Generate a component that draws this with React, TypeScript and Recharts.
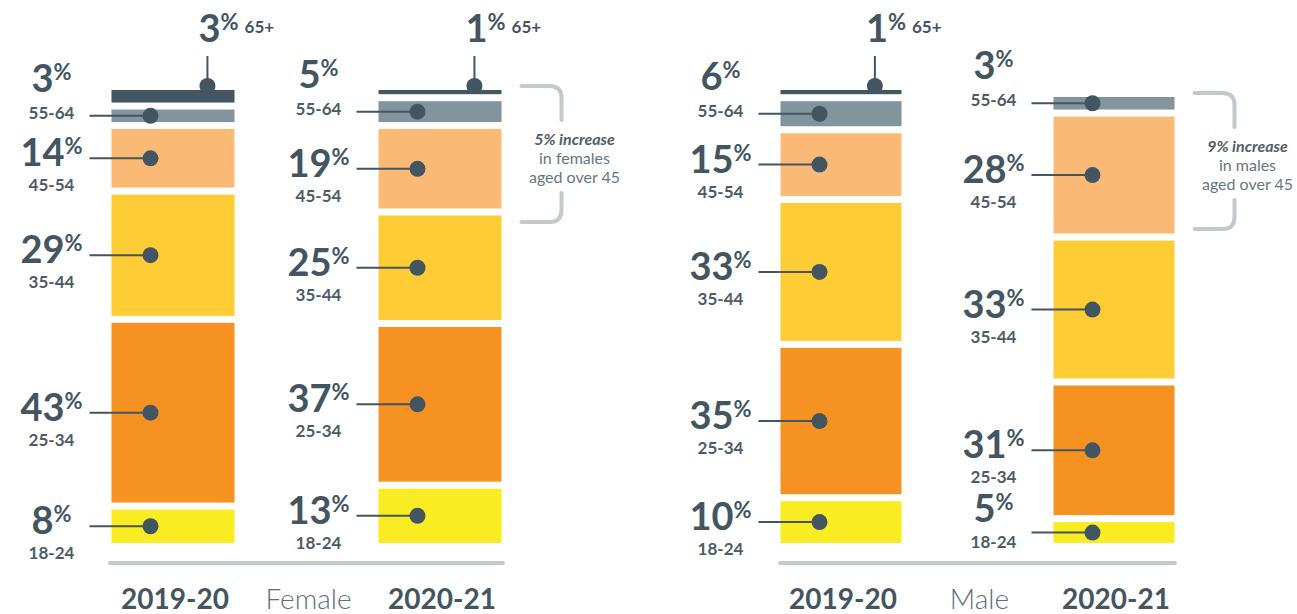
import React from 'react';
import { BarChart, Bar, XAxis, YAxis, Label } from 'recharts';

const years = ['2019-20', '2020-21'];
const ageGroups = ['18-24', '25-34', '35-44', '45-54', '55-64', '65+'];
const female2019 = [8, 43, 29, 14, 3, 3];
const female2020 = [13, 37, 25, 19, 5, 1];
const male2019 = [10, 35, 33, 15, 6, 1];
const male2020 = [5, 31, 33, 28, 3, 0];
const femaleNote = ['5% increase', 'in females', 'aged over 45'];
const maleNote = ['9% increase', 'in males', 'aged over 45'];
const ageColors = ['#f9ec22', '#f69222', '#fecc34', '#fbb976', '#82959c', '#445661'];

const keyOf = (i: number) => `age${i}`;
const buildRows = (series: number[][]) =>
  years.map((year, r) => {
    const row: Record<string, any> = { year };
    ageGroups.forEach((_, i) => {
      row[keyOf(i)] = series[r][i];
    });
    return row;
  });

const femaleRows = buildRows([female2019, female2020]);
const maleRows = buildRows([male2019, male2020]);

const GAP = 7;
const DARK = '#435561';
const FONT = 'Lato, "Source Sans Pro", "Open Sans", sans-serif';

function makeShape(seriesIdx: number, note: string[]) {
  return (props: any) => {
    const { x, y, width, height, payload } = props;
    if (!payload) return <g />;
    const value = payload[keyOf(seriesIdx)];
    if (!value || value <= 0) return <g />;
    let below = 0;
    for (let j = 0; j < seriesIdx; j++) if (payload[keyOf(j)] > 0) below++;
    let topMost = true;
    for (let j = seriesIdx + 1; j < ageGroups.length; j++) if (payload[keyOf(j)] > 0) topMost = false;
    const top = y - below * GAP;
    const h = Math.abs(height);
    const fill = ageColors[seriesIdx];
    const parts: React.ReactNode[] = [];
    parts.push(<rect key="r" x={x} y={top} width={width} height={h} fill={fill} />);

    if (seriesIdx === ageGroups.length - 1) {
      const dotX = x + width * 0.78;
      const dotY = top - 4;
      parts.push(<line key="l" x1={dotX} x2={dotX} y1={dotY} y2={top - 34} stroke={DARK} strokeWidth={2} />);
      parts.push(<circle key="c" cx={dotX} cy={dotY} r={8} fill={DARK} />);
      parts.push(
        <text key="t" x={dotX - 9} y={top - 48} fontFamily={FONT} fill={DARK} fontWeight={700} fontSize={38}>
          {value}
          <tspan fontSize={22} dy={-12}>%</tspan>
          <tspan fontSize={17} dx={6} dy={3}>{ageGroups[seriesIdx]}</tspan>
        </text>
      );
    } else {
      const lineY = top + h / 2;
      const dotX = x + 39;
      const labelX = x - 60;
      let numBase = lineY + 8;
      let ageBase = lineY + 33;
      if (seriesIdx === 4) {
        numBase = lineY - 24;
        ageBase = lineY + 3;
      } else if (value <= 6) {
        numBase = lineY - 11;
        ageBase = lineY + 15;
      }
      parts.push(<line key="l" x1={x - 22} x2={dotX} y1={lineY} y2={lineY} stroke={DARK} strokeWidth={2} />);
      parts.push(<circle key="c" cx={dotX} cy={lineY} r={8} fill={DARK} />);
      parts.push(
        <text key="n" x={labelX} y={numBase} textAnchor="middle" fontFamily={FONT} fill={DARK} fontWeight={700} fontSize={38}>
          {value}
          <tspan fontSize={22} dy={-12}>%</tspan>
        </text>
      );
      parts.push(
        <text key="a" x={labelX} y={ageBase} textAnchor="middle" fontFamily={FONT} fill="#4b5c66" fontWeight={700} fontSize={17}>
          {ageGroups[seriesIdx]}
        </text>
      );
    }

    if (topMost && payload.year === years[1] && note) {
      const bt = top - 4;
      const bb = bt + 136;
      const x0 = x + width + 20;
      const x1 = x + width + 60;
      const r = 12;
      const stroke = '#c3c8cb';
      parts.push(
        <path
          key="b1"
          d={`M ${x0} ${bt} H ${x1 - r} Q ${x1} ${bt} ${x1} ${bt + r} V ${bt + 34}`}
          fill="none"
          stroke={stroke}
          strokeWidth={4}
          strokeLinecap="round"
        />
      );
      parts.push(
        <path
          key="b2"
          d={`M ${x1} ${bt + 107} V ${bb - r} Q ${x1} ${bb} ${x1 - r} ${bb} H ${x0}`}
          fill="none"
          stroke={stroke}
          strokeWidth={4}
          strokeLinecap="round"
        />
      );
      const cx = x + width + 73;
      parts.push(
        <text key="nt0" x={cx} y={bt + 59} textAnchor="middle" fontFamily={FONT} fontSize={16} fontWeight={700} fontStyle="italic" fill="#4f6069">
          {note[0]}
        </text>
      );
      parts.push(
        <text key="nt1" x={cx} y={bt + 78} textAnchor="middle" fontFamily={FONT} fontSize={16} fill="#66767e">
          {note[1]}
        </text>
      );
      parts.push(
        <text key="nt2" x={cx} y={bt + 97} textAnchor="middle" fontFamily={FONT} fontSize={16} fill="#66767e">
          {note[2]}
        </text>
      );
    }
    return <g>{parts}</g>;
  };
}

const YearTick = (props: any) => {
  const { x, y, payload } = props;
  return (
    <text x={x + 2} y={y + 46} textAnchor="middle" fontFamily={FONT} fontSize={28} fontWeight={700} fill={DARK}>
      {payload.value}
    </text>
  );
};

const groupLabel = (text: string) => (props: any) => {
  const vb = props && props.viewBox;
  if (!vb) return null;
  return (
    <text x={vb.x + vb.width / 2 + 2} y={vb.y + 46} textAnchor="middle" fontFamily={FONT} fontSize={28} fontWeight={300} fill="#5e6e77">
      {text}
    </text>
  );
};

function Panel(props: { rows: any[]; note: string[]; title: string; width: number; left: number; right: number; pad: number; barSize: number }) {
  const { rows, note, title, width, left, right, pad, barSize } = props;
  return (
    <BarChart width={width} height={614} data={rows} margin={{ top: 125, right, bottom: 0, left }}>
      <XAxis
        dataKey="year"
        type="category"
        height={51}
        padding={{ left: pad, right: pad }}
        axisLine={{ stroke: '#c3c8cb', strokeWidth: 4, strokeLinecap: 'round' }}
        tickLine={false}
        tickSize={0}
        tickMargin={0}
        tick={<YearTick />}
        interval={0}
      >
        <Label content={groupLabel(title)} />
      </XAxis>
      <YAxis hide width={0} domain={[0, 100]} padding={{ top: 0, bottom: 20 }} />
      {ageGroups.map((g, i) => (
        <Bar
          key={g}
          dataKey={keyOf(i)}
          stackId="s"
          barSize={barSize}
          fill={ageColors[i]}
          isAnimationActive={false}
          shape={makeShape(i, note)}
        />
      ))}
    </BarChart>
  );
}

export default function App() {
  return (
    <div style={{ position: 'absolute', left: 0, top: 0, width: 1297, height: 614, overflow: 'hidden', background: '#fff' }}>
      <div style={{ position: 'absolute', left: 0, top: 0 }}>
        <Panel rows={femaleRows} note={femaleNote} title="Female" width={650} left={110} right={147} pad={-70.5} barSize={123} />
      </div>
      <div style={{ position: 'absolute', left: 650, top: 0 }}>
        <Panel rows={maleRows} note={maleNote} title="Male" width={647} left={130} right={122} pad={-75.5} barSize={121} />
      </div>
    </div>
  );
}
